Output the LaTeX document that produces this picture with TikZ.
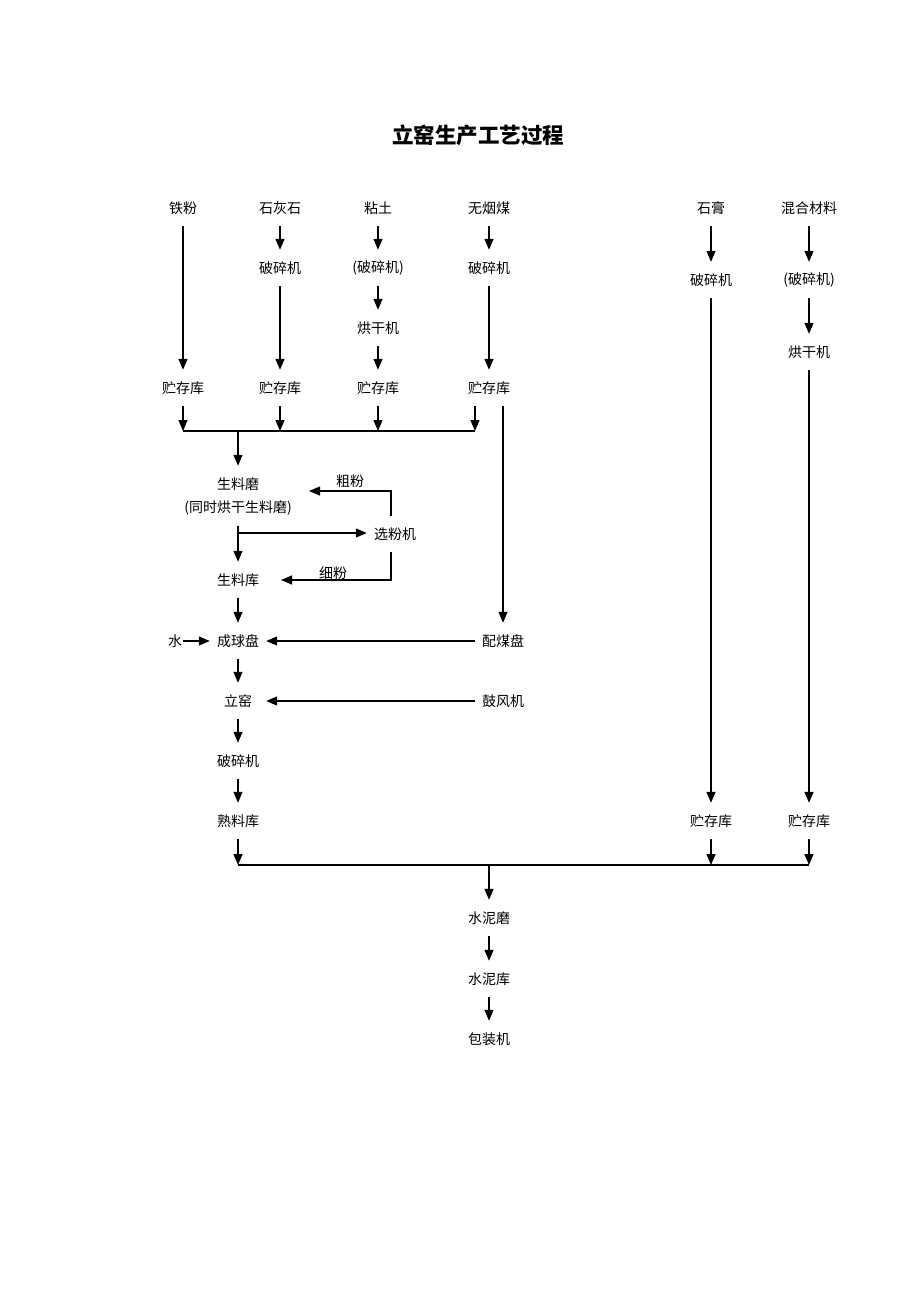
\documentclass[tikz,border=0pt]{standalone}
\usepackage{fontspec}
\newfontfamily\cjk{Noto Sans CJK SC}
\usetikzlibrary{arrows.meta}
\tikzset{
  lbl/.style={font=\cjk\fontsize{14}{16}\selectfont, inner xsep=7pt, inner ysep=0pt, minimum height=36pt},
  ttl/.style={font=\cjk\bfseries\fontsize{21.5}{24}\selectfont},
  ln/.style={line width=1.3pt},
  arr/.style={line width=1.3pt, -{Triangle[length=11pt,width=9pt]}},
}
\begin{document}
\begin{tikzpicture}[x=1pt,y=-1pt]
			\useasboundingbox (0,0) rectangle (920,1302);
			\node[ttl] (title) at (478,135) {立窑生产工艺过程};
			\node[lbl] (tf) at (183,208) {铁粉};
			\node[lbl] (shs) at (280,208) {石灰石};
			\node[lbl] (nt) at (378,208) {粘土};
			\node[lbl] (wym) at (489,208) {无烟煤};
			\node[lbl] (sg) at (711,208) {石膏};
			\node[lbl] (hhcl) at (809,208) {混合材料};
			\node[lbl] (pc2) at (280,268) {破碎机};
			\node[lbl] (pc3) at (378,268) {(破碎机)};
			\node[lbl] (pc4) at (489,268) {破碎机};
			\node[lbl] (hg3) at (378,328) {烘干机};
			\node[lbl] (pc5) at (711,280) {破碎机};
			\node[lbl] (pc6) at (809,280) {(破碎机)};
			\node[lbl] (hg6) at (809,352) {烘干机};
			\node[lbl] (ck1) at (183,388) {贮存库};
			\node[lbl] (ck2) at (280,388) {贮存库};
			\node[lbl] (ck3) at (378,388) {贮存库};
			\node[lbl] (ck4) at (489,388) {贮存库};
			\node[lbl] (slm) at (238,484) {生料磨};
			\node[lbl] (slmz) at (238,508) {(同时烘干生料磨)};
			\node[lbl] (xfj) at (395,534) {选粉机};
			\node[lbl] (cfl) at (350,481) {粗粉};
			\node[lbl] (xfl) at (333,573) {细粉};
			\node[lbl] (slk) at (238,580) {生料库};
			\node[lbl, inner xsep=1pt] (water) at (175,641) {水};
			\node[lbl] (cqp) at (238,641) {成球盘};
			\node[lbl] (pmp) at (503,641) {配煤盘};
			\node[lbl] (ly) at (238,701) {立窑};
			\node[lbl] (gfj) at (503,701) {鼓风机};
			\node[lbl] (pc7) at (238,761) {破碎机};
			\node[lbl] (sll) at (238,821) {熟料库};
			\node[lbl] (ck5) at (711,821) {贮存库};
			\node[lbl] (ck6) at (809,821) {贮存库};
			\node[lbl] (snm) at (489,918) {水泥磨};
			\node[lbl] (snk) at (489,979) {水泥库};
			\node[lbl] (bzj) at (489,1039) {包装机};
			\coordinate (busa) at (183,431);
			\coordinate (busb) at (475,431);
			\coordinate (fen) at (238,533);
			\coordinate (cf) at (309,491);
			\coordinate (xf) at (281,580);
			\coordinate (busc) at (238,865);
			\coordinate (busd) at (809,865);
			\draw[arr] (tf.south) -- (ck1.north);
			\draw[arr] (shs.south) -- (pc2.north);
			\draw[arr] (pc2.south) -- (ck2.north);
			\draw[arr] (nt.south) -- (pc3.north);
			\draw[arr] (pc3.south) -- (hg3.north);
			\draw[arr] (hg3.south) -- (ck3.north);
			\draw[arr] (wym.south) -- (pc4.north);
			\draw[arr] (pc4.south) -- (ck4.north);
			\draw[arr] (sg.south) -- (pc5.north);
			\draw[arr] (pc5.south) -- (ck5.north);
			\draw[arr] (hhcl.south) -- (pc6.north);
			\draw[arr] (pc6.south) -- (hg6.north);
			\draw[arr] (hg6.south) -- (ck6.north);
			\draw[ln] (busa) -- (busb);
			\draw[arr] (ck1.south) -- (ck1.south |- busa);
			\draw[arr] (ck2.south) -- (ck2.south |- busa);
			\draw[arr] (ck3.south) -- (ck3.south |- busa);
			\draw[arr] (ck4.south -| busb) -- (busb);
			\draw[arr] (ck4.south -| pmp) -- (pmp.north);
			\draw[arr] (busa -| slm) -- (slm.north);
			\draw[arr] (slmz.south) -- (slk.north);
			\draw[arr] (fen) -- (fen -| xfj.west);
			\draw[arr] ([xshift=-4pt]xfj.north) |- (cf);
			\draw[arr] ([xshift=-4pt]xfj.south) |- (xf);
			\draw[arr] (slk.south) -- (cqp.north);
			\draw[arr] (water) -- (cqp);
			\draw[arr] (pmp) -- (cqp);
			\draw[arr] (cqp.south) -- (ly.north);
			\draw[arr] (gfj.west) -- (gfj.west -| cqp.east);
			\draw[arr] (ly.south) -- (pc7.north);
			\draw[arr] (pc7.south) -- (sll.north);
			\draw[ln] (busc) -- (busd);
			\draw[arr] (sll.south) -- (sll.south |- busc);
			\draw[arr] (ck5.south) -- (ck5.south |- busc);
			\draw[arr] (ck6.south) -- (ck6.south |- busc);
			\draw[arr] (busc -| snm) -- (snm.north);
			\draw[arr] (snm.south) -- (snk.north);
			\draw[arr] (snk.south) -- (bzj.north);
		\end{tikzpicture}
\end{document}
